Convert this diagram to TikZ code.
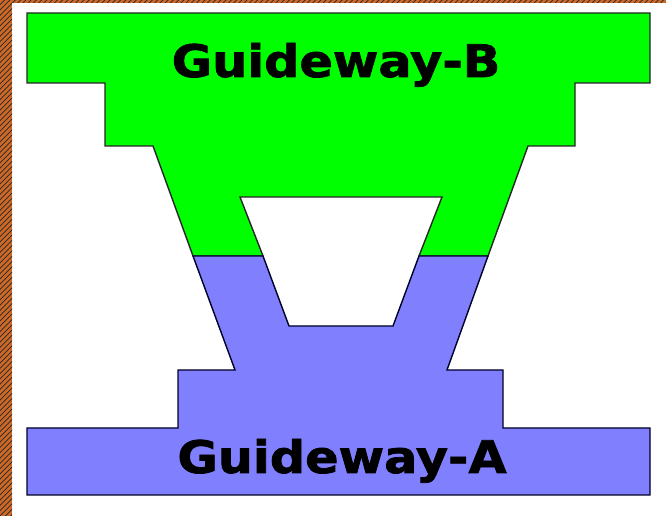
\documentclass[tikz,border=0pt]{standalone}
\usepackage{fontspec}
\setmainfont{DejaVu Sans}
\newfontfamily\gwfont[BoldFeatures={FakeBold=1.6}]{DejaVu Sans}
\usepackage{tikz}
\usetikzlibrary{patterns}

\definecolor{guideGreen}{RGB}{0,255,0}
\definecolor{guideBlue}{RGB}{128,128,255}
\definecolor{frameOrange}{RGB}{205,105,40}

\begin{document}
\begin{tikzpicture}[
  x=0.02cm, y=-0.02cm,
  guideB/.style={fill=guideGreen, draw=black!85, line width=0.8pt, line join=miter},
  guideA/.style={fill=guideBlue, draw=black!85!blue, line width=0.8pt, line join=miter},
  gwLabel/.style={font=\gwfont\fontsize{25.5}{28}\selectfont\bfseries, anchor=base, inner sep=0pt, xscale=1.1},
  frameStrip/.style={fill=frameOrange, postaction={pattern=north east lines, pattern color=black!85}}
]
\useasboundingbox (0,0) rectangle (666,516);
\fill[white] (0,0) rectangle (666,516);
% hatched frame
\path[frameStrip] (0,0) rectangle (12,516);
\path[frameStrip] (0,0) rectangle (666,3);

% upper guideway
\draw[guideB] (27,13) -- (650,13) -- (650,83) -- (575,83) -- (575,146) -- (528,146)
  -- (488,256) -- (419,256) -- (442,197) -- (240,197) -- (263,256) -- (193,256)
  -- (153,146) -- (105,146) -- (105,83) -- (27,83) -- cycle;

% lower guideway
\draw[guideA] (193,256) -- (263,256) -- (289,326) -- (393,326) -- (419,256) -- (488,256)
  -- (447,370) -- (503,370) -- (503,428) -- (650,428) -- (650,495) -- (27,495)
  -- (27,428) -- (178,428) -- (178,370) -- (235,370) -- cycle;

\node[gwLabel] (labelB) at (336,77) {Guideway-B};
\node[gwLabel] (labelA) at (342,473) {Guideway-A};
\end{tikzpicture}
\end{document}
